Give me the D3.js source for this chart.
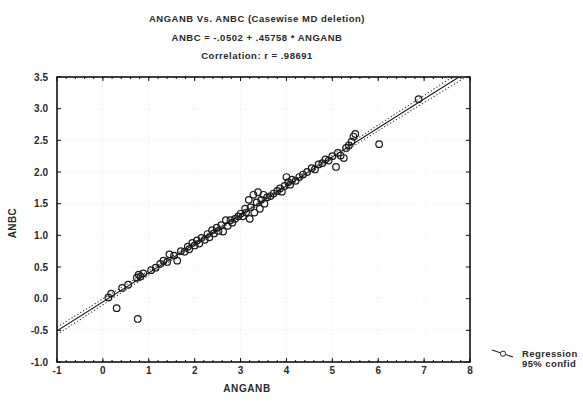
<!DOCTYPE html>
<html>
<head>
<meta charset="utf-8">
<script src="https://cdn.jsdelivr.net/npm/d3@7"></script>
<style>
body { margin: 0; background: #fff; }
svg text { font-family: "Liberation Sans", Arial, sans-serif; font-weight: bold; fill: #2a2a2a; }
</style>
</head>
<body>
<svg id="chart" width="583" height="404"></svg>
<script>
// ANGANB (x) and ANBC (y) readings, one case per index
var anganb = [0.12, 0.18, 0.30, 0.42, 0.55, 0.76, 0.74, 0.78, 0.82, 0.88,
	1.05, 1.15, 1.25, 1.32, 1.40, 1.45, 1.55, 1.62, 1.70, 1.78,
	1.85, 1.88, 1.95, 2.00, 2.05, 2.10, 2.15, 2.22, 2.28, 2.32,
	2.38, 2.42, 2.48, 2.52, 2.58, 2.62, 2.68, 2.72, 2.78, 2.82,
	2.88, 2.95, 3.00, 3.05, 3.10, 3.12, 3.18, 3.20, 3.22, 3.28,
	3.30, 3.35, 3.38, 3.42, 3.45, 3.50, 3.52, 3.58, 3.65, 3.72,
	3.80, 3.86, 3.90, 3.96, 4.00, 4.04, 4.08, 4.12, 4.20, 4.28,
	4.36, 4.45, 4.55, 4.62, 4.70, 4.78, 4.85, 4.92, 5.00, 5.08,
	5.12, 5.18, 5.25, 5.30, 5.36, 5.42, 5.46, 5.50, 6.02, 6.88];
var anbc = [0.02, 0.08, -0.15, 0.17, 0.22, -0.32, 0.33, 0.38, 0.35, 0.40,
	0.45, 0.49, 0.55, 0.60, 0.58, 0.70, 0.68, 0.60, 0.75, 0.74,
	0.82, 0.78, 0.88, 0.84, 0.92, 0.87, 0.96, 0.93, 1.02, 0.97,
	1.08, 1.03, 1.12, 1.07, 1.16, 1.06, 1.24, 1.15, 1.24, 1.20,
	1.26, 1.30, 1.34, 1.30, 1.42, 1.36, 1.56, 1.26, 1.44, 1.64,
	1.36, 1.52, 1.68, 1.42, 1.56, 1.64, 1.50, 1.60, 1.62, 1.66,
	1.70, 1.74, 1.69, 1.78, 1.92, 1.84, 1.80, 1.88, 1.86, 1.92,
	1.96, 2.00, 2.06, 2.04, 2.12, 2.14, 2.20, 2.18, 2.25, 2.08,
	2.30, 2.26, 2.22, 2.38, 2.42, 2.48, 2.56, 2.60, 2.44, 3.15];

// regression from the chart title
var intercept = -0.0502;
var slope = 0.45758;

var xTicks = [-1, 0, 1, 2, 3, 4, 5, 6, 7, 8];
var yTicks = [-1.0, -0.5, 0.0, 0.5, 1.0, 1.5, 2.0, 2.5, 3.0, 3.5];
var titleLines = ["ANGANB Vs. ANBC (Casewise MD deletion)",
	"ANBC = -.0502 + .45758 * ANGANB",
	"Correlation: r = .98691"];
var legendLabels = ["Regression", "95% confid"];

var svg = d3.select("#chart");
var pLeft = 57, pRight = 470, pTop = 77, pBottom = 362;

var x = d3.scaleLinear().domain([-1, 8]).range([pLeft, pRight]);
var y = d3.scaleLinear().domain([-1, 3.5]).range([pBottom, pTop]);

svg.append("defs").append("clipPath").attr("id", "plotclip")
	.append("rect")
	.attr("x", pLeft).attr("y", pTop)
	.attr("width", pRight - pLeft).attr("height", pBottom - pTop);

// faint grid
var grid = svg.append("g").attr("stroke", "#e6e6e6").attr("stroke-dasharray", "1,3");
grid.selectAll(".gx").data(xTicks.slice(1, -1)).enter().append("line")
	.attr("x1", function (d) { return x(d); }).attr("x2", function (d) { return x(d); })
	.attr("y1", pTop).attr("y2", pBottom);
grid.selectAll(".gy").data(yTicks.slice(1, -1)).enter().append("line")
	.attr("y1", function (d) { return y(d); }).attr("y2", function (d) { return y(d); })
	.attr("x1", pLeft).attr("x2", pRight);

// confidence band from the residuals
var n = anganb.length;
var xbar = d3.mean(anganb);
var sxx = d3.sum(anganb, function (v) { return (v - xbar) * (v - xbar); });
var sse = 0;
for (var i = 0; i < n; ++i) {
	var r = anbc[i] - (intercept + slope * anganb[i]);
	sse += r * r;
}
var s = Math.sqrt(sse / (n - 2));
var tval = 1.987;
var xs = d3.range(-1, 8.001, 0.05);
function half (v) { return tval * s * Math.sqrt(1 / n + (v - xbar) * (v - xbar) / sxx); }

var plot = svg.append("g").attr("clip-path", "url(#plotclip)");

var line = d3.line().x(function (d) { return x(d[0]); }).y(function (d) { return y(d[1]); });

plot.append("path")
	.datum(xs.map(function (v) { return [v, intercept + slope * v + half(v)]; }))
	.attr("d", line).attr("fill", "none")
	.attr("stroke", "#333").attr("stroke-width", 1.1).attr("stroke-dasharray", "1.2,2.2");
plot.append("path")
	.datum(xs.map(function (v) { return [v, intercept + slope * v - half(v)]; }))
	.attr("d", line).attr("fill", "none")
	.attr("stroke", "#333").attr("stroke-width", 1.1).attr("stroke-dasharray", "1.2,2.2");

plot.append("path")
	.datum([[-1, intercept - slope], [8, intercept + slope * 8]])
	.attr("d", line).attr("fill", "none")
	.attr("stroke", "#111").attr("stroke-width", 1.1);

plot.selectAll("circle").data(d3.range(n)).enter().append("circle")
	.attr("cx", function (i) { return x(anganb[i]); })
	.attr("cy", function (i) { return y(anbc[i]); })
	.attr("r", 3.3)
	.attr("fill", "none")
	.attr("stroke", "#1a1a1a")
	.attr("stroke-width", 1.2);

// frame and ticks
svg.append("rect")
	.attr("x", pLeft).attr("y", pTop)
	.attr("width", pRight - pLeft).attr("height", pBottom - pTop)
	.attr("fill", "none").attr("stroke", "#111").attr("stroke-width", 1.6);

var minorX = d3.range(-1, 8.001, 0.2);
var ticks = svg.append("g").attr("stroke", "#111").attr("stroke-width", 1);
ticks.selectAll(".mb").data(minorX).enter().append("line")
	.attr("x1", function (d) { return x(d); }).attr("x2", function (d) { return x(d); })
	.attr("y1", pBottom).attr("y2", pBottom - 2);
ticks.selectAll(".mt").data(minorX).enter().append("line")
	.attr("x1", function (d) { return x(d); }).attr("x2", function (d) { return x(d); })
	.attr("y1", pTop).attr("y2", pTop + 2);
ticks.selectAll(".xb").data(xTicks).enter().append("line")
	.attr("x1", function (d) { return x(d); }).attr("x2", function (d) { return x(d); })
	.attr("y1", pBottom).attr("y2", pBottom - 4);
ticks.selectAll(".xt").data(xTicks).enter().append("line")
	.attr("x1", function (d) { return x(d); }).attr("x2", function (d) { return x(d); })
	.attr("y1", pTop).attr("y2", pTop + 4);
ticks.selectAll(".yl").data(yTicks).enter().append("line")
	.attr("y1", function (d) { return y(d); }).attr("y2", function (d) { return y(d); })
	.attr("x1", pLeft).attr("x2", pLeft + 4);
ticks.selectAll(".yr").data(yTicks).enter().append("line")
	.attr("y1", function (d) { return y(d); }).attr("y2", function (d) { return y(d); })
	.attr("x1", pRight).attr("x2", pRight - 4);

// tick labels
svg.selectAll(".xl").data(xTicks).enter().append("text")
	.attr("x", function (d) { return x(d); })
	.attr("y", pBottom + 12)
	.attr("text-anchor", "middle")
	.attr("font-size", 10)
	.text(function (d) { return d; });
svg.selectAll(".ylab").data(yTicks).enter().append("text")
	.attr("x", pLeft - 9)
	.attr("y", function (d) { return y(d) + 3.5; })
	.attr("text-anchor", "end")
	.attr("font-size", 10)
	.text(function (d) { return d3.format(".1f")(d).replace("−", "-"); });

// axis titles
svg.append("text")
	.attr("x", 247).attr("y", 392)
	.attr("text-anchor", "middle").attr("font-size", 10)
	.attr("letter-spacing", 0.6)
	.text("ANGANB");
svg.append("text")
	.attr("transform", "translate(16,223) rotate(-90)")
	.attr("text-anchor", "middle").attr("font-size", 10)
	.attr("letter-spacing", 0.4)
	.text("ANBC");

// chart title
svg.selectAll(".title").data(titleLines).enter().append("text")
	.attr("x", 257)
	.attr("y", function (d, i) { return 22 + i * 18.5; })
	.attr("text-anchor", "middle")
	.attr("font-size", 9.5)
	.attr("letter-spacing", 0.5)
	.text(function (d) { return d; });

// legend
var lg = svg.append("g");
lg.append("line")
	.attr("x1", 492).attr("y1", 350).attr("x2", 513).attr("y2", 357)
	.attr("stroke", "#222").attr("stroke-width", 1.1);
lg.append("circle")
	.attr("cx", 503).attr("cy", 353.7).attr("r", 2.6)
	.attr("fill", "#fff").attr("stroke", "#222").attr("stroke-width", 1);
lg.selectAll("text").data(legendLabels).enter().append("text")
	.attr("x", 522)
	.attr("y", function (d, i) { return 357 + i * 10; })
	.attr("font-size", 9.5)
	.attr("letter-spacing", 0.4)
	.text(function (d) { return d; });
</script>
</body>
</html>
